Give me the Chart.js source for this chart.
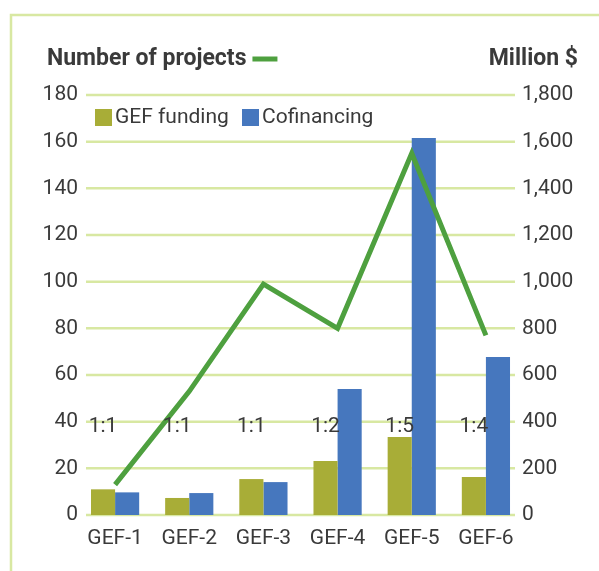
<!DOCTYPE html>
<html>
<head>
<meta charset="utf-8">
<script src="https://cdn.jsdelivr.net/npm/chart.js@4.4.1/dist/chart.umd.min.js"></script>
<style>
  html, body { margin: 0; padding: 0; background: #fff; }
  canvas { display: block; }
</style>
</head>
<body>
<canvas id="gefChart" width="599" height="571"></canvas>
<script>
// values
const categories = ['GEF-1', 'GEF-2', 'GEF-3', 'GEF-4', 'GEF-5', 'GEF-6'];
const gefFunding = [110, 73, 154, 231, 334, 163];      // million $
const cofinancing = [97, 94, 141, 540, 1616, 677];     // million $
const projects = [13, 53, 99, 80, 155, 77];            // number of projects
const ratios = ['1:1', '1:1', '1:1', '1:2', '1:5', '1:4'];
const leftTicks = { min: 0, max: 180, step: 20 };
const rightTicks = { min: 0, max: 1800, step: 200 };

const textColor = '#3a3a3a';
const gridColor = '#d8e8a2';
const oliveColor = '#a8ad37';
const blueColor = '#4677be';
const lineColor = '#4ea03f';
const fontFamily = 'Roboto, "DejaVu Sans", sans-serif';

// frame, gridlines, titles, legend and ratio labels
const decorations = {
    id: 'decorations',
    beforeDatasetsDraw(chart) {
        const ctx = chart.ctx;
        const area = chart.chartArea;
        const y = chart.scales.y;
        ctx.save();
        // frame lines at top / left
        ctx.strokeStyle = gridColor;
        ctx.lineWidth = 2.5;
        ctx.beginPath();
        ctx.moveTo(11, 571);
        ctx.lineTo(11, 15);
        ctx.lineTo(599, 15);
        ctx.stroke();
        // horizontal gridlines
        y.ticks.forEach(t => {
            const py = y.getPixelForValue(t.value);
            ctx.beginPath();
            ctx.moveTo(area.left + 8, py);
            ctx.lineTo(area.right - 8, py);
            ctx.stroke();
        });
        ctx.restore();
    },
    afterDraw(chart) {
        const ctx = chart.ctx;
        const y = chart.scales.y;
        ctx.save();
        ctx.fillStyle = textColor;
        ctx.textBaseline = 'middle';

        // axis titles
        ctx.font = 'bold 23px ' + fontFamily;
        ctx.textAlign = 'left';
        ctx.fillText('Number of projects', 47, 59);
        const w = ctx.measureText('Number of projects').width;
        ctx.strokeStyle = lineColor;
        ctx.lineWidth = 5;
        ctx.beginPath();
        ctx.moveTo(47 + w + 6, 59);
        ctx.lineTo(47 + w + 31, 59);
        ctx.stroke();
        ctx.textAlign = 'right';
        ctx.fillText('Million $', 578, 59);

        // legend
        ctx.font = '21px ' + fontFamily;
        ctx.textAlign = 'left';
        ctx.fillStyle = oliveColor;
        ctx.fillRect(95, 109, 17, 17);
        ctx.fillStyle = textColor;
        ctx.fillText('GEF funding', 115, 118);
        ctx.fillStyle = blueColor;
        ctx.fillRect(242, 109, 17, 17);
        ctx.fillStyle = textColor;
        ctx.fillText('Cofinancing', 262, 118);

        // ratio labels over the GEF funding bars
        const bars = chart.getDatasetMeta(1).data;
        ctx.textAlign = 'center';
        const ly = y.getPixelForValue(38);
        bars.forEach((bar, i) => {
            ctx.fillText(ratios[i], bar.x, ly);
        });
        ctx.restore();
    }
};

new Chart(document.getElementById('gefChart'), {
    type: 'bar',
    data: {
        labels: categories,
        datasets: [
            {
                type: 'line',
                label: 'Number of projects',
                data: projects,
                yAxisID: 'y',
                borderColor: lineColor,
                borderWidth: 5,
                pointRadius: 0,
                tension: 0,
                fill: false,
                order: 0
            },
            {
                label: 'GEF funding',
                data: gefFunding,
                yAxisID: 'y1',
                backgroundColor: oliveColor,
                barPercentage: 1.0,
                categoryPercentage: 0.65,
                order: 1
            },
            {
                label: 'Cofinancing',
                data: cofinancing,
                yAxisID: 'y1',
                backgroundColor: blueColor,
                barPercentage: 1.0,
                categoryPercentage: 0.65,
                order: 1
            }
        ]
    },
    options: {
        responsive: false,
        animation: false,
        layout: { padding: { top: 95 } },
        plugins: {
            legend: { display: false },
            tooltip: { enabled: false }
        },
        scales: {
            x: {
                grid: { display: false, drawTicks: false },
                border: { display: false },
                ticks: {
                    color: textColor,
                    font: { family: fontFamily, size: 21 },
                    padding: 11,
                    maxRotation: 0
                },
                afterFit: s => { s.height = 56; }
            },
            y: {
                position: 'left',
                min: leftTicks.min,
                max: leftTicks.max,
                grid: { display: false, drawTicks: false },
                border: { display: false },
                ticks: {
                    stepSize: leftTicks.step,
                    color: textColor,
                    font: { family: fontFamily, size: 21 },
                    padding: 0
                },
                afterFit: s => { s.width = 78; }
            },
            y1: {
                position: 'right',
                min: rightTicks.min,
                max: rightTicks.max,
                grid: { display: false, drawTicks: false },
                border: { display: false },
                ticks: {
                    stepSize: rightTicks.step,
                    color: textColor,
                    font: { family: fontFamily, size: 21 },
                    padding: -1,
                    callback: v => v.toLocaleString('en-US')
                },
                afterFit: s => { s.width = 76; }
            }
        }
    },
    plugins: [decorations]
});
</script>
</body>
</html>
